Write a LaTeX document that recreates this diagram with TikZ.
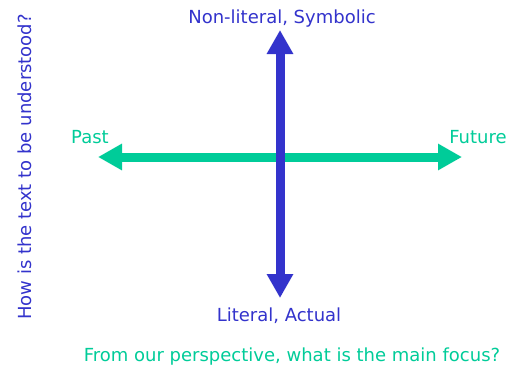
\documentclass[tikz,border=0pt]{standalone}
\usepackage{fontspec}
\setmainfont{DejaVu Sans}
\usetikzlibrary{arrows.meta}
\definecolor{axblue}{RGB}{51,51,204}
\definecolor{axgreen}{RGB}{0,204,153}
\tikzset{
  lbl/.style={font=\fontsize{18}{21}\selectfont, inner sep=0pt, anchor=center},
  axarrow/.style={line width=9pt, {Triangle[length=24pt,width=25pt]}-{Triangle[length=24pt,width=25pt]}}
}
\begin{document}
\begin{tikzpicture}[x=1pt,y=-1pt]
\useasboundingbox[fill=white] (0,0) rectangle (511,372);
\coordinate (top) at (280,30);
\coordinate (bot) at (280,298);
\coordinate (lft) at (98,157);
\coordinate (rgt) at (462,157);
\draw[axarrow, axgreen] (lft) -- (rgt);
\draw[axarrow, axblue] (top) -- (bot);
\node[lbl, text=axblue] (sym) at (282,19) {Non-literal, Symbolic};
\node[lbl, text=axblue] (lit) at (279,316) {Literal, Actual};
\node[lbl, text=axgreen] (past) at (90,137) {Past};
\node[lbl, text=axgreen] (fut) at (478,137) {Future};
\node[lbl, text=axblue, rotate=90] (how) at (25,167) {How is the text to be understood?};
\node[lbl, text=axgreen] (foc) at (292,357) {From our perspective, what is the main focus?};
\end{tikzpicture}
\end{document}
